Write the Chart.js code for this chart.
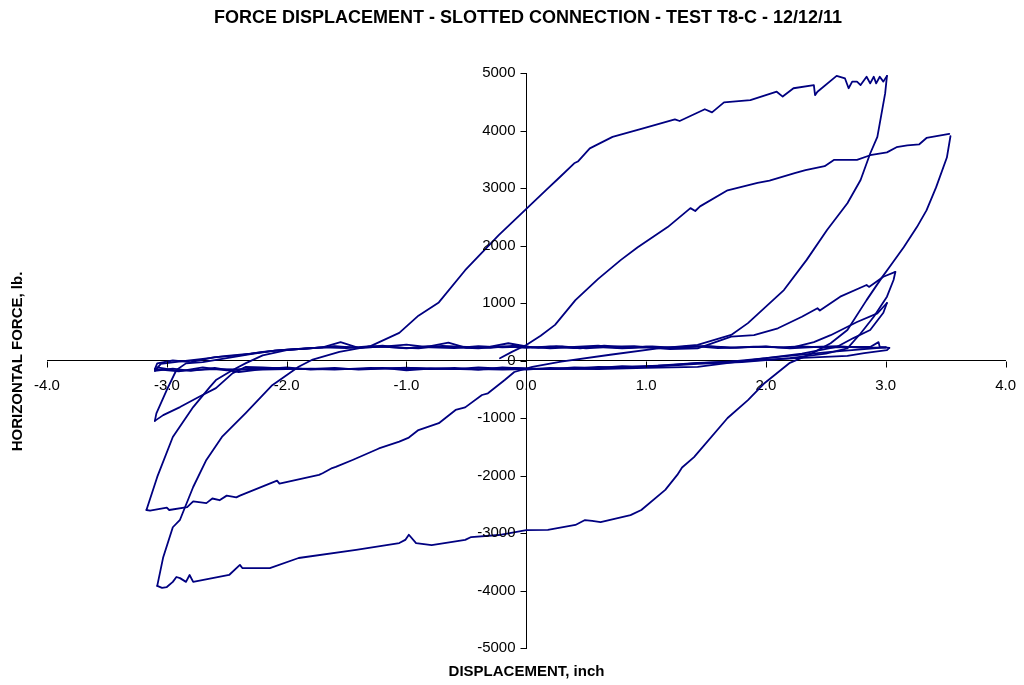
<!DOCTYPE html>
<html>
<head>
<meta charset="utf-8">
<title>Force displacement - slotted connection - test T8-C</title>
<script src="https://cdn.jsdelivr.net/npm/chart.js@4.4.1/dist/chart.umd.min.js"></script>
<style>
  html, body { margin: 0; padding: 0; background: #ffffff; }
  #wrap { width: 1024px; height: 685px; }
  canvas { display: block; }
</style>
</head>
<body>
<div id="wrap"><canvas id="chart" width="1024" height="685"></canvas></div>
<script>
// Hysteresis record, one array pair per half cycle (displacement in inch, force in lb).

// first push to the right, peak near 3.5 in
const dispLoad1  = [-0.22,-0.12,0,0.12,0.24,0.41,0.6,0.79,0.93,1.18,1.37,1.41,1.45,1.68,1.93,2.03,2.24,2.33,2.49,2.57,2.76,2.87,3.01,3.09,3.18,3.28,3.34,3.53];
const forceLoad1 = [40,150,270,430,620,1050,1420,1750,1970,2320,2650,2600,2680,2960,3090,3130,3260,3310,3380,3490,3490,3570,3620,3710,3740,3760,3870,3940];

// reversal down to the largest negative force
const dispUnload1  = [3.54,3.51,3.42,3.34,3.26,3.15,3.03,2.97,2.84,2.68,2.54,2.38,2.2,1.99,1.85,1.68,1.4,1.3,1.26,1.16,0.96,0.87,0.62,0.55,0.49,0.41,0.18,0,-0.23,-0.46,-0.51,-0.79,-0.92,-0.98,-1.01,-1.06,-1.42,-1.9,-2.14,-2.37,-2.39,-2.48,-2.78,-2.81,-2.84,-2.89,-2.92,-2.95,-3.0,-3.04,-3.08];
const forceUnload1 = [3900,3530,3010,2610,2320,1970,1620,1450,1050,530,300,120,-40,-390,-690,-1000,-1680,-1860,-1990,-2250,-2600,-2690,-2810,-2790,-2775,-2860,-2945,-2950,-3035,-3070,-3120,-3210,-3175,-3030,-3120,-3175,-3295,-3435,-3610,-3610,-3555,-3730,-3850,-3730,-3850,-3785,-3765,-3850,-3940,-3955,-3920];

// reload to the largest positive force
const dispLoad2  = [-3.08,-3.03,-2.95,-2.89,-2.78,-2.67,-2.54,-2.34,-2.12,-1.9,-1.79,-1.56,-1.3,-1.06,-0.9,-0.73,-0.51,-0.23,0.02,0.18,0.27,0.4,0.43,0.53,0.72,0.96,1.24,1.28,1.49,1.55,1.65,1.87,2.09,2.14,2.23,2.40,2.41,2.43,2.59,2.66,2.69,2.72,2.76,2.79,2.84,2.87,2.90,2.92,2.95,2.98,3.01];
const forceLoad2 = [-3920,-3420,-2900,-2770,-2200,-1730,-1330,-910,-430,-110,10,150,250,480,780,1010,1570,2180,2675,2995,3170,3430,3460,3690,3890,4030,4195,4165,4370,4315,4490,4530,4675,4590,4735,4790,4615,4675,4950,4905,4735,4850,4850,4790,4935,4820,4935,4820,4935,4850,4950];

// unloading, then pushed back to the second negative peak
const dispUnload2  = [3.01,2.995,2.93,2.87,2.79,2.68,2.51,2.34,2.15,1.85,1.71,1.43,1.1,0.7,0.29,0.05,-0.1,-0.18,-0.32,-0.37,-0.51,-0.59,-0.73,-0.9,-0.98,-1.06,-1.23,-1.45,-1.59,-1.62,-1.7,-1.73,-2.06,-2.08,-2.39,-2.42,-2.5,-2.56,-2.62,-2.67,-2.78,-2.83,-2.98,-3.0,-3.14,-3.17];
const forceUnload2 = [4950,4645,3890,3600,3140,2735,2270,1750,1225,650,445,270,212,100,-20,-110,-200,-340,-570,-600,-815,-860,-1090,-1210,-1340,-1410,-1530,-1730,-1850,-1870,-1960,-1990,-2140,-2090,-2350,-2380,-2350,-2430,-2400,-2480,-2450,-2550,-2600,-2560,-2610,-2600];

// reload through the slip band to the third positive peak
const dispLoad3  = [-3.17,-3.08,-2.95,-2.78,-2.64,-2.59,-2.45,-2.34,-2.2,-2.0,-1.8,-1.6,-1.4,-1.2,-1.0,-0.8,-0.6,-0.4,-0.2,0,0.2,0.4,0.6,0.8,1.0,1.2,1.43,1.71,1.9,2.1,2.3,2.43,2.45,2.62,2.84,2.86,2.98,3.08];
const forceLoad3 = [-2600,-2025,-1330,-810,-460,-340,-165,-45,90,180,215,240,225,260,215,250,230,210,245,220,240,215,235,210,230,200,212,414,443,560,760,908,870,1110,1313,1280,1457,1540];

const dispUnload3  = [3.08,3.065,3.01,2.9,2.79,2.68,2.5,2.2,1.8,1.43,1.2,1.0,0.8,0.6,0.4,0.2,0,-0.2,-0.4,-0.6,-0.8,-1.0,-1.2,-1.4,-1.6,-1.8,-2.0,-2.2,-2.34,-2.45,-2.59,-2.73,-2.89,-3.03,-3.1];
const forceUnload3 = [1540,1400,1110,760,470,212,120,40,-30,-60,-90,-110,-100,-130,-120,-150,-140,-120,-160,-130,-150,-125,-140,-160,-130,-150,-140,-120,-110,-220,-480,-630,-810,-950,-1050];

const dispLoad4  = [-3.1,-3.087,-3.0,-2.92,-2.84,-2.7,-2.5,-2.3,-2.1,-1.9,-1.7,-1.55,-1.4,-1.2,-1.0,-0.8,-0.65,-0.5,-0.3,-0.15,0.05,0.25,0.45,0.65,0.85,1.05,1.25,1.5,1.75,2.0,2.2,2.4,2.54,2.76,2.93,3.01];
const forceLoad4 = [-1050,-920,-510,-165,-50,-30,40,110,170,200,230,320,220,240,210,250,310,220,240,300,230,250,210,260,230,245,220,250,225,240,215,320,440,670,820,1000];

const dispUnload4  = [3.01,2.98,2.87,2.73,2.59,2.3,2.0,1.7,1.4,1.2,1.0,0.8,0.6,0.4,0.2,0,-0.2,-0.4,-0.6,-0.8,-1.0,-1.2,-1.4,-1.6,-1.8,-2.0,-2.2,-2.4,-2.6,-2.8,-2.95,-3.1];
const forceUnload4 = [1000,830,530,390,235,120,40,-20,-50,-80,-100,-120,-110,-140,-130,-160,-140,-120,-150,-140,-170,-130,-150,-140,-160,-120,-150,-200,-130,-180,-140,-180];

// slip-only cycles along the friction band
const dispLoad5  = [-3.1,-3.05,-2.9,-2.7,-2.5,-2.3,-2.1,-1.9,-1.7,-1.5,-1.3,-1.1,-0.9,-0.7,-0.5,-0.3,-0.1,0.1,0.3,0.5,0.7,0.9,1.1,1.3,1.5,1.7,1.9,2.1,2.3,2.5,2.68,2.87,2.94,2.95,3.03];
const forceLoad5 = [-180,-60,-20,30,80,120,170,200,230,215,250,230,210,255,235,220,260,220,245,210,240,250,215,235,250,220,240,230,245,225,235,235,320,235,220];

const dispUnload5  = [3.03,3.01,2.82,2.68,2.26,1.8,1.43,1.1,0.8,0.5,0.2,-0.1,-0.4,-0.7,-1.0,-1.3,-1.6,-1.9,-2.2,-2.5,-2.7,-2.9,-3.1];
const forceUnload5 = [220,180,130,80,40,-10,-40,-90,-120,-140,-150,-130,-160,-140,-150,-130,-160,-140,-130,-170,-120,-190,-150];

const dispLoad6  = [-3.1,-3.08,-2.95,-2.8,-2.6,-2.4,-2.2,-2.0,-1.8,-1.6,-1.4,-1.2,-1.0,-0.8,-0.6,-0.4,-0.2,0,0.2,0.4,0.6,0.8,1.0,1.2,1.4,1.6,1.8,2.0,2.2,2.4,2.6,2.8,3.0];
const forceLoad6 = [-150,-50,0,-30,60,90,150,190,210,250,220,240,275,230,215,250,230,240,210,235,260,215,240,225,250,215,230,245,210,235,250,220,230];

const dispUnload6  = [3.0,2.54,2.0,1.43,1.0,0.6,0.2,-0.2,-0.6,-1.0,-1.4,-1.8,-2.2,-2.6,-2.9,-3.08];
const forceUnload6 = [230,150,40,-110,-130,-150,-140,-160,-140,-130,-150,-140,-160,-150,-180,-120];

const halfCycles = [
  [dispLoad1, forceLoad1], [dispUnload1, forceUnload1],
  [dispLoad2, forceLoad2], [dispUnload2, forceUnload2],
  [dispLoad3, forceLoad3], [dispUnload3, forceUnload3],
  [dispLoad4, forceLoad4], [dispUnload4, forceUnload4],
  [dispLoad5, forceLoad5], [dispUnload5, forceUnload5],
  [dispLoad6, forceLoad6], [dispUnload6, forceUnload6]
];

// axis tick values
const dispTicks  = [-4, -3, -2, -1, 0, 1, 2, 3, 4];
const forceTicks = [-5000, -4000, -3000, -2000, -1000, 0, 1000, 2000, 3000, 4000, 5000];

const TITLE   = 'FORCE DISPLACEMENT - SLOTTED CONNECTION - TEST T8-C - 12/12/11';
const X_TITLE = 'DISPLACEMENT, inch';
const Y_TITLE = 'HORIZONTAL FORCE, lb.';

const FONT = "'Liberation Sans', Arial, Helvetica, sans-serif";
const NAVY = '#000080';

const datasets = halfCycles.map(([xs, ys]) => ({
  data: xs.map((x, i) => ({ x: x, y: ys[i] })),
  showLine: true,
  borderColor: NAVY,
  backgroundColor: NAVY,
  borderWidth: 1.8,
  borderJoinStyle: 'round',
  borderCapStyle: 'round',
  pointRadius: 0,
  pointHoverRadius: 0,
  fill: false,
  tension: 0
}));

// crossing axes: tick marks point outward (x down, y left), force labels sit left of the
// vertical axis, and the axis titles sit at the edges of the canvas
const crossAxes = {
  id: 'crossAxes',
  afterDraw(chart) {
    const ctx = chart.ctx;
    const sx = chart.scales.x, sy = chart.scales.y;
    const x0 = Math.round(sx.getPixelForValue(0)) + 0.5;
    const y0 = Math.round(sy.getPixelForValue(0)) + 0.5;
    ctx.save();
    ctx.strokeStyle = '#000';
    ctx.lineWidth = 1;
    ctx.beginPath();
    dispTicks.forEach(v => {
      const px = Math.round(sx.getPixelForValue(v)) + 0.5;
      ctx.moveTo(px, y0); ctx.lineTo(px, y0 + 6);
    });
    forceTicks.forEach(v => {
      const py = Math.round(sy.getPixelForValue(v)) + 0.5;
      ctx.moveTo(x0 - 6, py); ctx.lineTo(x0, py);
    });
    ctx.stroke();

    ctx.fillStyle = '#000';
    ctx.font = '15px ' + FONT;
    ctx.textAlign = 'right';
    ctx.textBaseline = 'middle';
    forceTicks.forEach(v => {
      ctx.fillText(String(v), x0 - 11, sy.getPixelForValue(v));
    });

    ctx.font = 'bold 15px ' + FONT;
    ctx.textAlign = 'center';
    ctx.fillText(X_TITLE, x0, 672);
    ctx.translate(18, y0);
    ctx.rotate(-Math.PI / 2);
    ctx.fillText(Y_TITLE, 0, 0);
    ctx.restore();
  }
};

new Chart(document.getElementById('chart'), {
  type: 'scatter',
  data: { datasets },
  options: {
    responsive: false,
    animation: false,
    devicePixelRatio: 1,
    events: [],
    layout: { padding: { left: 47, right: 15, top: 0, bottom: 37 } },
    plugins: {
      legend: { display: false },
      tooltip: { enabled: false },
      title: {
        display: true,
        text: TITLE,
        color: '#000',
        font: { family: FONT, size: 18, weight: 'bold', lineHeight: 1.2 },
        padding: { top: 7, bottom: 44.4 }
      }
    },
    scales: {
      x: {
        type: 'linear',
        position: { y: 0 },
        min: -4, max: 4,
        afterBuildTicks: s => { s.ticks = dispTicks.map(v => ({ value: v })); },
        ticks: {
          color: '#000',
          font: { family: FONT, size: 15 },
          padding: 8,
          maxRotation: 0,
          autoSkip: false,
          callback: v => Number(v).toFixed(1)
        },
        grid: { display: false },
        border: { display: true, color: '#000', width: 1 }
      },
      y: {
        type: 'linear',
        position: { x: 0 },
        min: -5000, max: 5000,
        afterBuildTicks: s => { s.ticks = forceTicks.map(v => ({ value: v })); },
        ticks: { display: false },
        grid: { display: false },
        border: { display: true, color: '#000', width: 1 }
      }
    }
  },
  plugins: [crossAxes]
});
</script>
</body>
</html>
